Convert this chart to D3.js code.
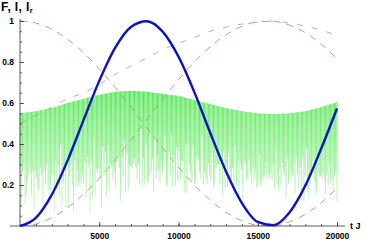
<!DOCTYPE html>
<html lang="en">
<head>
  <meta charset="UTF-8" />
  <title>d3</title>
  <script src="https://cdn.jsdelivr.net/npm/d3@7"></script>
  <style>
    body { margin: 0; background: #fff; }
    svg text { font-family: "Liberation Sans", Arial, sans-serif; font-weight: bold; fill: #000; }
  </style>
</head>
<body>
  <svg id="svg"></svg>
</body>
<script>
  const width = 374;
  const height = 240;

  // sample times (t J) and curves
  const sampleT = [0, 1000, 2000, 3000, 4000, 5000, 6000, 7000, 8000, 9000, 10000,
    11000, 12000, 13000, 14000, 15000, 16000, 17000, 18000, 19000, 20000];
  const F = [0, 0.04, 0.152, 0.319, 0.515, 0.708, 0.869, 0.971, 0.999, 0.948, 0.826,
    0.653, 0.455, 0.266, 0.112, 0.02, 0.004, 0.066, 0.197, 0.377, 0.573];
  const Ia = [1, 0.99, 0.96, 0.911, 0.846, 0.767, 0.677, 0.58, 0.48, 0.381, 0.287,
    0.2, 0.126, 0.067, 0.026, 0.004, 0.002, 0.02, 0.057, 0.113, 0.184];
  const Ib = [0, 0.01, 0.04, 0.089, 0.154, 0.233, 0.323, 0.42, 0.52, 0.619, 0.713,
    0.8, 0.874, 0.933, 0.974, 0.996, 0.998, 0.98, 0.943, 0.887, 0.816];
  const Ig = [0.5, 0.54, 0.58, 0.62, 0.65, 0.69, 0.74, 0.78, 0.82, 0.86, 0.89,
    0.92, 0.95, 0.97, 0.985, 0.995, 1.0, 0.99, 0.975, 0.955, 0.93];
  // green fast oscillation: upper envelope, lowest reach, and relative depth of the swings
  const greenTop = [0.55, 0.56, 0.575, 0.6, 0.62, 0.64, 0.655, 0.66, 0.655, 0.645, 0.635,
    0.615, 0.595, 0.575, 0.56, 0.55, 0.545, 0.55, 0.56, 0.58, 0.605];
  const greenLow = [0.05, 0.04, 0.04, 0.04, 0.05, 0.07, 0.09, 0.11, 0.12, 0.13, 0.13,
    0.12, 0.11, 0.1, 0.1, 0.11, 0.11, 0.1, 0.08, 0.06, 0.05];
  const depthA = [0.62, 0.91, 0.48, 0.77, 0.99, 0.55, 0.83, 0.41, 0.95, 0.68, 0.52, 0.87,
    0.73, 0.45, 0.97, 0.6, 0.8, 0.5, 0.92, 0.66, 0.39, 0.85, 0.71, 1.0, 0.57, 0.79, 0.46,
    0.94, 0.64, 0.88, 0.53, 0.75, 0.43, 0.98, 0.69, 0.58, 0.82, 0.49, 0.9, 0.63, 0.76];
  const depthB = [0.3, 0.9, 0.55, 0.2, 0.75, 1.0, 0.4, 0.65, 0.1, 0.85, 0.5, 0.95, 0.25,
    0.7, 0.45, 0.8, 0.15, 0.6, 1.0, 0.35, 0.9, 0.05, 0.7, 0.5, 0.85, 0.3, 0.65, 0.95,
    0.2, 0.55, 0.4, 0.8, 0.1, 0.75, 0.6, 0.45, 1.0];
  const greenCount = 250;

  const xTicks = [5000, 10000, 15000, 20000];
  const xMinor = d3.range(1000, 20001, 1000);
  const yTicks = [0.2, 0.4, 0.6, 0.8, 1];
  const yMinor = d3.range(0.05, 1.001, 0.05);
  const yTitle = ["F, I, I", "r"];
  const xTitle = "t J";

  const svg = d3.select("#svg").attr("width", width).attr("height", height);

  const xScale = d3.scaleLinear().domain([0, 20000]).range([20, 337]);
  const yScale = d3.scaleLinear().domain([0, 1]).range([226, 21]);

  const line = d3.line()
    .x((d, i) => xScale(sampleT[i]))
    .y(d => yScale(d))
    .curve(d3.curveMonotoneX);

  // vertical fade for the green swings
  const grad = svg.append("defs").append("linearGradient")
    .attr("id", "gfade").attr("gradientUnits", "userSpaceOnUse")
    .attr("x1", 0).attr("x2", 0)
    .attr("y1", yScale(0.66)).attr("y2", yScale(0.04));
  grad.append("stop").attr("offset", 0).attr("stop-color", "#2fe02f").attr("stop-opacity", 0.85);
  grad.append("stop").attr("offset", 0.45).attr("stop-color", "#44e644").attr("stop-opacity", 0.6);
  grad.append("stop").attr("offset", 1).attr("stop-color", "#9ae89a").attr("stop-opacity", 0.45);

  // dashed reference curves
  svg.append("path").attr("d", line(Ig))
    .attr("fill", "none").attr("stroke", "#b4b4b4").attr("stroke-width", 1)
    .attr("stroke-dasharray", "6,9");
  svg.append("path").attr("d", line(Ia))
    .attr("fill", "none").attr("stroke", "#d39488").attr("stroke-width", 1)
    .attr("stroke-dasharray", "7,6");
  svg.append("path").attr("d", line(Ib))
    .attr("fill", "none").attr("stroke", "#d39488").attr("stroke-width", 1)
    .attr("stroke-dasharray", "7,6");

  // green oscillation
  const topAt = d3.scaleLinear().domain(sampleT).range(greenTop);
  const lowAt = d3.scaleLinear().domain(sampleT).range(greenLow);
  const swings = d3.range(greenCount).map(i => {
    const t = i * 20000 / (greenCount - 1);
    const top = topAt(t);
    const d = 0.12 + 0.88 * (depthA[i % depthA.length] + depthB[i % depthB.length]) / 2;
    return { t, top, bottom: top - d * (top - lowAt(t)) };
  });
  svg.append("g").selectAll("line").data(swings).join("line")
    .attr("x1", d => xScale(d.t)).attr("x2", d => xScale(d.t))
    .attr("y1", d => yScale(d.top)).attr("y2", d => yScale(d.bottom))
    .attr("stroke", "url(#gfade)").attr("stroke-width", 1);

  // blue F curve
  svg.append("path").attr("d", line(F))
    .attr("fill", "none").attr("stroke", "#0a14c0").attr("stroke-width", 2.4);

  // axes
  const [x0, x1] = xScale.range();
  const [y0, y1] = yScale.range();
  svg.append("line").attr("x1", x0 - 10).attr("x2", x1 + 8)
    .attr("y1", y0).attr("y2", y0).attr("stroke", "#333").attr("stroke-width", 0.8);
  svg.append("line").attr("x1", x0).attr("x2", x0)
    .attr("y1", y0).attr("y2", y1 - 2).attr("stroke", "#333").attr("stroke-width", 0.8);

  const xMinorAxis = d3.axisBottom(xScale).tickValues(xMinor).tickSize(-2).tickFormat("");
  const xAxis = d3.axisBottom(xScale).tickValues(xTicks).tickSize(-4).tickPadding(7)
    .tickFormat(d3.format("d"));
  [xMinorAxis, xAxis].forEach(ax => {
    const g = svg.append("g").attr("transform", `translate(0,${y0})`).call(ax);
    g.selectAll(".domain").remove();
    g.selectAll(".tick line").attr("stroke", "#333").attr("stroke-width", 0.8);
    g.selectAll("text").attr("font-size", "8.5px").attr("font-family", null);
  });

  const yMinorAxis = d3.axisLeft(yScale).tickValues(yMinor).tickSize(-2).tickFormat("");
  const yAxis = d3.axisLeft(yScale).tickValues(yTicks).tickSize(-4).tickPadding(6)
    .tickFormat(d => d === 1 ? "1" : d3.format(".1f")(d));
  [yMinorAxis, yAxis].forEach(ax => {
    const g = svg.append("g").attr("transform", `translate(${x0},0)`).call(ax);
    g.selectAll(".domain").remove();
    g.selectAll(".tick line").attr("stroke", "#333").attr("stroke-width", 0.8);
    g.selectAll("text").attr("font-size", "8.5px").attr("font-family", null);
  });

  // titles
  const t = svg.append("text").attr("x", 1).attr("y", 11).attr("font-size", "12px")
    .attr("letter-spacing", "0.4px");
  t.append("tspan").text(yTitle[0]);
  t.append("tspan").attr("font-size", "7.5px").attr("dy", 2).text(yTitle[1]);

  svg.append("text").attr("x", x1 + 13).attr("y", y0 + 3).attr("font-size", "9px")
    .text(xTitle);
</script>
</html>
